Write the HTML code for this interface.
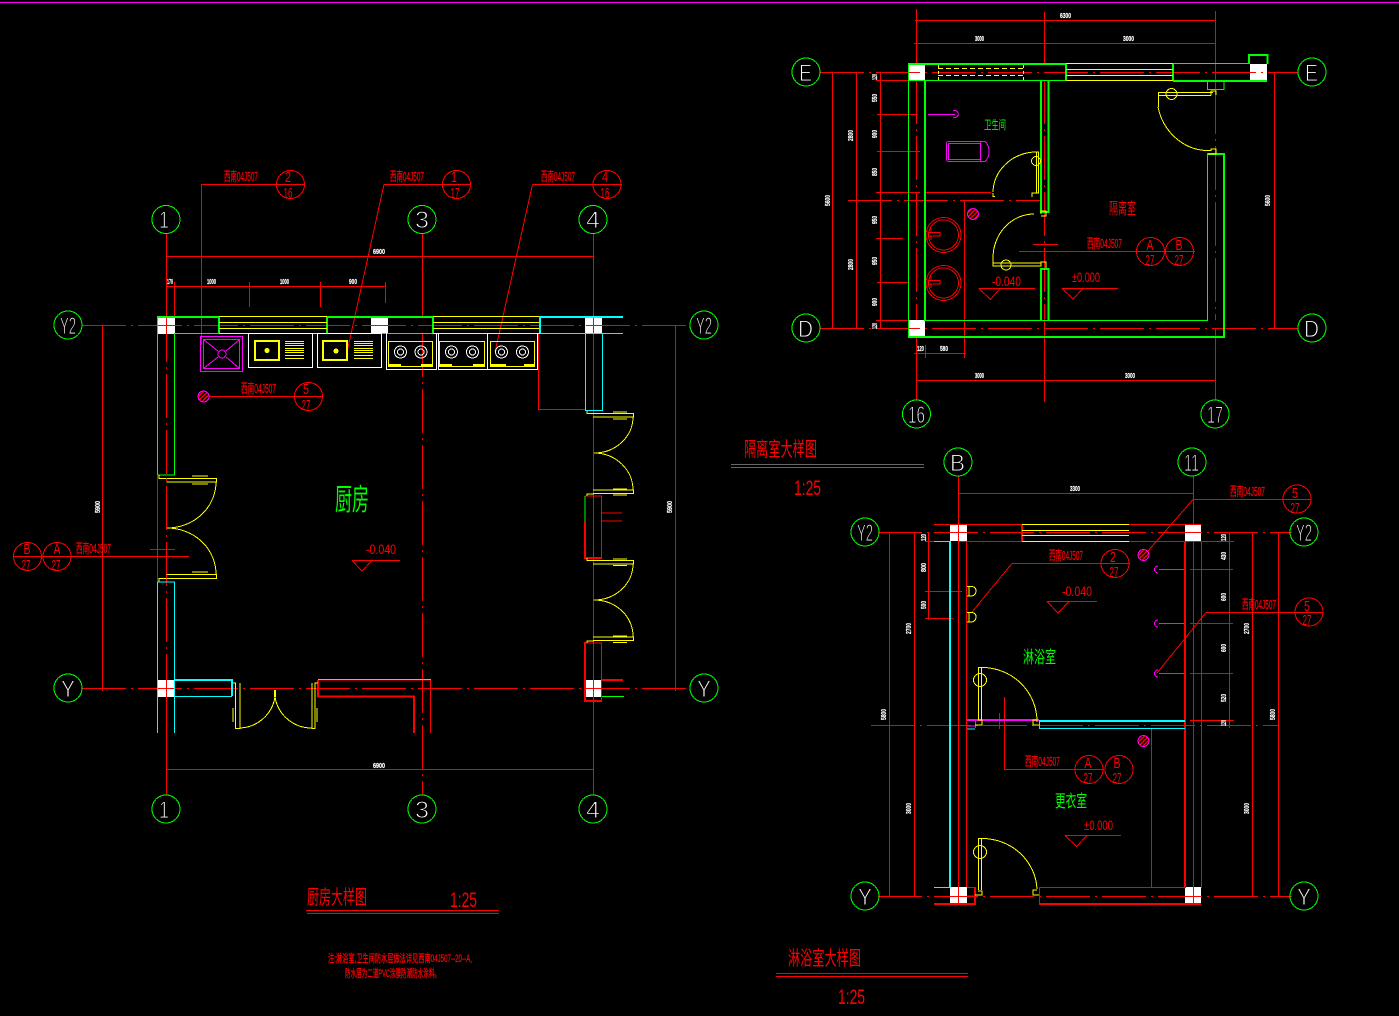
<!DOCTYPE html>
<html><head><meta charset="utf-8"><style>
html,body{margin:0;padding:0;background:#000;width:1399px;height:1016px;overflow:hidden}
svg{display:block;shape-rendering:crispEdges}
text{font-family:"Liberation Sans","Noto Sans CJK SC",sans-serif;stroke:none}
.r{stroke:#f00;fill:none}.g{stroke:#0f0;fill:none}.c{stroke:#0ff;fill:none}.y{stroke:#ff0;fill:none}.m{stroke:#f0f;fill:none}.w{stroke:#fff;fill:none}
.t2{stroke-width:2}.t3{stroke-width:3}
.dd{stroke-dasharray:44 5 2 5}
.lab text{fill:#f00;font-size:13px;stroke:#f00;stroke-width:.25}
.num text{fill:#f00;font-size:15px}
.b text{fill:#fff;font-size:24px;stroke:#000;stroke-width:.9}
.d text{fill:#fff;font-size:7.5px;font-weight:bold;font-family:"Liberation Sans",sans-serif;stroke:#fff;stroke-width:.2}
.el{fill:#f00;font-size:14px}
text.gt{fill:#0f0}
text.rt{fill:#f00}
text.note{fill:#f00;font-size:11px;stroke:#f00;stroke-width:.3}
</style></head><body>
<svg width="1399" height="1016" viewBox="0 0 1399 1016" xmlns="http://www.w3.org/2000/svg">
<defs><pattern id="h" width="3" height="3" patternUnits="userSpaceOnUse" patternTransform="rotate(-45)"><rect width="3" height="3" fill="#000"/><rect width="3" height="1.5" fill="#f00"/></pattern></defs>
<rect width="1399" height="1016" fill="#000"/>
<rect x="0" y="2" width="1399" height="1" fill="#f0f"/>

<!-- white columns -->
<g fill="#fff">
<rect x="158" y="318" width="17" height="16"/><rect x="371" y="318" width="17" height="16"/><rect x="585" y="318" width="17" height="16"/>
<rect x="158" y="680" width="17" height="17"/><rect x="586" y="680" width="16" height="17"/>
<rect x="909" y="65" width="16" height="15"/><rect x="1250" y="64" width="17" height="16"/><rect x="909" y="320" width="16" height="16"/>
<rect x="950" y="525" width="17" height="16"/><rect x="1185" y="525" width="16" height="16"/><rect x="950" y="887" width="17" height="17"/><rect x="1185" y="887" width="16" height="17"/>
</g>

<!-- ============ KITCHEN ============ -->
<g class="r">
<path d="M166.5,234V316M166.5,697V795M422.5,234V316M593.5,234V795"/>
<path class="dd" d="M166.5,318V700M422.5,333V795"/>
<path class="dd" d="M82,325.5H690"/>
<path class="dd" d="M82,688.5H690"/>
<path d="M166,256.5H593M166,286.5H386M249.5,282V307M320.5,282V307M385.5,282V303M174.5,282V316M102.5,325V691M675.5,325V691M166,769.5H593"/>
<path d="M201.5,184.5H304M201.5,184.5V345M384,184.5H471M384,184.5L347,352M532.5,184.5H622M532.5,184.5L495,352M209,396.5H322M13,556.5H189M150,549.5H175M538.5,333V409.5H585"/>
<path d="M157.5,475V582"/>
<path d="M352,560.5H400M352,560.5L362,571L372,560.5"/>
<circle cx="290.5" cy="184.5" r="14"/><circle cx="456.5" cy="184.5" r="14"/><circle cx="607" cy="184.5" r="14"/><circle cx="308.5" cy="396.5" r="14"/><circle cx="27.5" cy="556.5" r="14"/><circle cx="57" cy="556.5" r="14"/>
<path d="M585,496H601.5V558M601.5,513H622M601.5,521H622M585,643H601.5V701"/>
<path class="t2" d="M585,521V558H602M585,642V701H602M602,680H623"/>
<path d="M318,680H430.5V733"/>
<path class="t2" d="M318,680V696.5H414V733"/>
</g>
<g class="g">
<path class="t2" d="M157,317H219V333M327,333V317H433V333"/>
<path d="M175,333.5H433M157.5,317V475M174.5,333V475H158M585,496V521M602,696.5H624"/>
</g>
<g class="y">
<path d="M219,316.5H327M219,322.5H327M219,328.5H327M219,333.5H327M433,316.5H540M433,322.5H540M433,328.5H540M433,333.5H540"/>
<path d="M159,475V478.5H166M166.5,478.5H216.5V482H166.5M192,476H208M192,484H208"/>
<path d="M216,482A49,46 0 0 1 167,528A49,46 0 0 1 216,574"/>
<path d="M159,582V578.5H166M166.5,574.5H216.5V578.5H166.5M192,572H208"/>
<path d="M587,410V413.5H594M593,413.5H633.5V417H593M613,412H627M613,419H627"/>
<path d="M633,417A39,36 0 0 1 594,453A39,37 0 0 1 633,490"/>
<path d="M593,490H633.5V493.5H593M587,496V494H594M613,489H627M613,495H627"/>
<path d="M587,558V560.5H594M593,560.5H633.5V564H593M613,559H627M613,565.5H627"/>
<path d="M633,564A39,36 0 0 1 594,600A39,36 0 0 1 633,636.5"/>
<path d="M593,637H633.5V640.5H593M587,643V641H594M613,636H627M613,642.5H627"/>
<path d="M232,683H235.5V728.5H240V683M233,708V722"/>
<path d="M240,728A37,37 0 0 0 275,697M275,697A37,37 0 0 0 312,728"/>
<path d="M312,683V728.5H315V683H318M317,708V722"/>
<path class="t2" d="M275,690V697"/>
</g>
<g class="c">
<path class="t2" d="M540,333V317H623M175,680H232V696"/>
<path d="M540,333.5H623M585.5,333V410.5H602.5V333"/>
<path d="M157.5,582H174.5V733M157.5,582V733M175,696.5H232M318,679.5H431"/>
</g>
<g class="m">
<rect x="200.5" y="336.5" width="42" height="35"/>
<rect x="203.5" y="339.5" width="36" height="29"/>
<path d="M204,340L218,351M239,340L226,351M204,368L218,357M239,368L226,357"/>
<circle cx="222" cy="354" r="4"/>
</g>
<circle cx="203.5" cy="396.5" r="5.5" fill="url(#h)" stroke="#f0f"/>
<g class="w">
<rect x="248.5" y="333.5" width="64" height="34"/>
<rect x="317.5" y="333.5" width="64" height="34"/>
<path d="M386.5,333V369.5H436.5V333M438.5,333V369.5H487.5V333M537.5,333V369.5H487.5"/>
<circle cx="400.5" cy="352" r="6"/><circle cx="400.5" cy="352" r="3"/><circle cx="421" cy="352" r="6"/><circle cx="421" cy="352" r="3"/>
<circle cx="451.5" cy="352" r="6"/><circle cx="451.5" cy="352" r="3"/><circle cx="472.5" cy="352" r="6"/><circle cx="472.5" cy="352" r="3"/>
<circle cx="501.5" cy="352" r="6"/><circle cx="501.5" cy="352" r="3"/><circle cx="522.5" cy="352" r="6"/><circle cx="522.5" cy="352" r="3"/>
</g>
<g class="y">
<rect class="t2" x="255" y="341" width="24" height="19"/><rect class="t2" x="323" y="341" width="24" height="19"/>
<path d="M285,341.5H304M285,343.5H304M285,345.5H304M285,348.5H304M285,350.5H304M285,352.5H304M285,355.5H304M285,358.5H304"/>
<path d="M354,341.5H373M354,343.5H373M354,345.5H373M354,348.5H373M354,350.5H373M354,352.5H373M354,355.5H373M354,358.5H373"/>
<rect x="388.5" y="341.5" width="44" height="25"/><rect x="439.5" y="341.5" width="45" height="25"/><rect x="490.5" y="341.5" width="44" height="25"/>
</g>
<g fill="#ff0"><circle cx="267" cy="350.5" r="2.5"/><circle cx="336" cy="351" r="2.5"/><rect x="389" y="364" width="12" height="3"/><rect x="421" y="364" width="12" height="3"/><rect x="440" y="364" width="12" height="3"/><rect x="473" y="364" width="12" height="3"/><rect x="490" y="364" width="16" height="3"/><rect x="524" y="364" width="11" height="3"/></g>

<g class="g"><circle cx="166" cy="219.5" r="14"/><circle cx="422" cy="219.5" r="14"/><circle cx="593" cy="219.5" r="14"/><circle cx="68" cy="325" r="14"/><circle cx="704" cy="325" r="14"/><circle cx="68" cy="688" r="14"/><circle cx="704" cy="688" r="14"/><circle cx="166" cy="809" r="14"/><circle cx="422" cy="809" r="14"/><circle cx="593" cy="809" r="14"/></g>
<g class="b">
<text x="159" y="228" textLength="10" lengthAdjust="spacingAndGlyphs">1</text><text x="415" y="228" textLength="14" lengthAdjust="spacingAndGlyphs">3</text><text x="586" y="228" textLength="14" lengthAdjust="spacingAndGlyphs">4</text>
<text x="60" y="334" textLength="16" lengthAdjust="spacingAndGlyphs">Y2</text><text x="696" y="334" textLength="16" lengthAdjust="spacingAndGlyphs">Y2</text>
<text x="61" y="697" textLength="14" lengthAdjust="spacingAndGlyphs">Y</text><text x="697" y="697" textLength="14" lengthAdjust="spacingAndGlyphs">Y</text>
<text x="159" y="818" textLength="10" lengthAdjust="spacingAndGlyphs">1</text><text x="415" y="818" textLength="14" lengthAdjust="spacingAndGlyphs">3</text><text x="586" y="818" textLength="14" lengthAdjust="spacingAndGlyphs">4</text>
</g>
<g class="lab">
<text x="224" y="181" textLength="34" lengthAdjust="spacingAndGlyphs">西南04J507</text>
<text x="390" y="181" textLength="34" lengthAdjust="spacingAndGlyphs">西南04J507</text>
<text x="541" y="181" textLength="34" lengthAdjust="spacingAndGlyphs">西南04J507</text>
<text x="241" y="393" textLength="35" lengthAdjust="spacingAndGlyphs">西南04J507</text>
<text x="76" y="553" textLength="35" lengthAdjust="spacingAndGlyphs">西南04J507</text>
</g>
<g class="num" text-anchor="middle">
<text x="288" y="182" textLength="6" lengthAdjust="spacingAndGlyphs">2</text><text x="288" y="198" textLength="9" lengthAdjust="spacingAndGlyphs">16</text>
<text x="454" y="182" textLength="6" lengthAdjust="spacingAndGlyphs">1</text><text x="455" y="198" textLength="9" lengthAdjust="spacingAndGlyphs">17</text>
<text x="605" y="182" textLength="6" lengthAdjust="spacingAndGlyphs">4</text><text x="605" y="198" textLength="9" lengthAdjust="spacingAndGlyphs">16</text>
<text x="306" y="394" textLength="6" lengthAdjust="spacingAndGlyphs">5</text><text x="306" y="410" textLength="9" lengthAdjust="spacingAndGlyphs">27</text>
<text x="27" y="554" textLength="7" lengthAdjust="spacingAndGlyphs">B</text><text x="26" y="570" textLength="9" lengthAdjust="spacingAndGlyphs">27</text>
<text x="57" y="554" textLength="7" lengthAdjust="spacingAndGlyphs">A</text><text x="56" y="570" textLength="9" lengthAdjust="spacingAndGlyphs">27</text>
</g>
<g class="d">
<text x="373" y="254" textLength="12" lengthAdjust="spacingAndGlyphs">6900</text><text x="373" y="768" textLength="12" lengthAdjust="spacingAndGlyphs">6900</text>
<text x="167" y="284" textLength="6" lengthAdjust="spacingAndGlyphs">170</text><text x="207" y="284" textLength="9" lengthAdjust="spacingAndGlyphs">1000</text><text x="280" y="284" textLength="9" lengthAdjust="spacingAndGlyphs">1000</text><text x="349" y="284" textLength="8" lengthAdjust="spacingAndGlyphs">900</text>
<text transform="translate(100,513) rotate(-90)" textLength="12" lengthAdjust="spacingAndGlyphs">5900</text>
<text transform="translate(672,513) rotate(-90)" textLength="12" lengthAdjust="spacingAndGlyphs">5900</text>
</g>
<text class="gt" x="335" y="510" font-size="30" textLength="34" lengthAdjust="spacingAndGlyphs">厨房</text>
<text class="el" x="366" y="554" textLength="30" lengthAdjust="spacingAndGlyphs">-0.040</text>
<text class="rt" x="307" y="904" font-size="20" textLength="60" lengthAdjust="spacingAndGlyphs">厨房大样图</text>
<text class="rt" x="450" y="907" font-size="21" textLength="27" lengthAdjust="spacingAndGlyphs">1:25</text>
<rect x="306" y="910" width="193" height="1" fill="#f00"/><rect x="307" y="913" width="192" height="1" fill="#f00"/>
<text class="note" x="328" y="962" textLength="144" lengthAdjust="spacingAndGlyphs">注:淋浴室,卫生间防水层做法详见西南04J507--20--A,</text>
<text class="note" x="345" y="977" textLength="95" lengthAdjust="spacingAndGlyphs">防水层为二道PVC涂膜防潮防水涂料。</text>

<!-- ============ ISOLATION ============ -->
<g class="r">
<path d="M916.5,9V65M916.5,336V400M1215.5,11V90"/>
<path class="dd" d="M916.5,80V320M1215.5,90V320"/>
<path d="M1215.5,328V400M1044.5,12V64M1044.5,336V380"/>
<path class="dd" d="M1044.5,80V402"/>
<path class="dd" d="M820,72.5H1298"/>
<path class="dd" d="M820,328.5H1298"/>
<path class="dd" d="M848,200.5H1040"/>
<path d="M915,20.5H1216M914,43.5H1216M916,380.5H1216M914,353.5H966M925.5,345V358M964.5,200V358"/>
<path d="M832.5,72V329M856.5,72V329M880.5,72V329M1274.5,72V329"/>
<path d="M876,80.5H909M877,114.5H918M877,151.5H920M876,192.5H920M926,192.5H991M876,238.5H903M877,282.5H909M876,320.5H908"/>
<path d="M1019,251.5H1195M1033,244.5H1058"/>
<path d="M979,288.5H1035M979,288.5L990.5,299.5L1000,288.5M1062,288.5H1118M1062,288.5L1073,299L1083,288.5"/>
<circle cx="1150.5" cy="251.5" r="14"/><circle cx="1179.5" cy="251.5" r="14"/>
<circle cx="943.5" cy="235" r="17.5"/><circle cx="943.5" cy="235" r="15"/><circle cx="943.5" cy="283" r="17.5"/><circle cx="943.5" cy="283" r="15"/>
<path d="M928.5,232.5H940V236H928.5ZM931,228V232M931,236V240M928.5,280.5H940V284H928.5ZM931,276V280M931,284V288"/>
</g>
<g class="g">
<path class="t2" d="M908,64H1066V81M1173,81V64"/>
<path class="t2" d="M1173,81H1267M1249,64V55H1267.5V64M925,81V321M1041,81V212H1048.5V81M1041,320V269H1048.5V320M1207.5,154H1224V337H908"/>
<path d="M908,80.5H1066M1173,63.5H1249M1207.5,153V320.5H925M1207.5,81V89.5H1224V81M908.5,64V337"/>
</g>
<g class="y">
<path d="M1066,63.5H1173M1066,69.5H1173M1066,75.5H1173M1066,80.5H1173"/>
<path stroke-dasharray="5 3" d="M938,68.5H1024M938,75.5H1024"/>
<path stroke-dasharray="3 3" d="M938.5,65V80M1023.5,65V80"/>
<path d="M1158.5,107V92.5H1213M1158.5,95.5H1211M1211,95.5V91H1216V95M1158,107A52,55 0 0 0 1205,150.5H1211V149H1216V154H1208"/>
<circle cx="1171.5" cy="94" r="5.5"/>
<path d="M1036.5,152V193H1038.5V152H1033M1038,193H1032V197M993,193V196.5H995"/>
<path d="M993,192A44,41 0 0 1 1034,152"/>
<circle cx="1036" cy="161" r="4.5"/>
<path d="M1034,214A41,44 0 0 0 993,258V266H1041V263H993"/><path d="M1041,214V211H1046V216H1041M1041,266V262H1046V268"/>
<circle cx="1006" cy="265" r="5"/>
</g>
<g class="m">
<path d="M928,114.5H955"/><path d="M953,111A3.5,3.5 0 1 1 953,117"/>
<rect x="946.5" y="141.5" width="34" height="20" rx="2"/><rect x="948.5" y="143.5" width="32" height="16"/>
<path d="M980,141.5H985Q989,145 989,151.5Q989,158 985,161.5H980"/>
</g>
<circle cx="973" cy="214" r="5.5" fill="url(#h)" stroke="#f0f"/>
<g class="g"><circle cx="806" cy="72" r="14"/><circle cx="1312" cy="72" r="14"/><circle cx="806" cy="328" r="14"/><circle cx="1312" cy="328" r="14"/><circle cx="916.5" cy="414" r="14"/><circle cx="1215" cy="414" r="14"/></g>
<g class="b">
<text x="799" y="81" textLength="13" lengthAdjust="spacingAndGlyphs">E</text><text x="1305" y="81" textLength="13" lengthAdjust="spacingAndGlyphs">E</text>
<text x="798" y="337" textLength="15" lengthAdjust="spacingAndGlyphs">D</text><text x="1304" y="337" textLength="15" lengthAdjust="spacingAndGlyphs">D</text>
<text x="908" y="423" textLength="17" lengthAdjust="spacingAndGlyphs">16</text><text x="1207" y="423" textLength="16" lengthAdjust="spacingAndGlyphs">17</text>
</g>
<g class="lab">
<text x="1087" y="248" textLength="35" lengthAdjust="spacingAndGlyphs">西南04J507</text>
</g>
<g class="num" text-anchor="middle">
<text x="1150" y="250" textLength="7" lengthAdjust="spacingAndGlyphs">A</text><text x="1150" y="265" textLength="9" lengthAdjust="spacingAndGlyphs">27</text>
<text x="1179" y="250" textLength="7" lengthAdjust="spacingAndGlyphs">B</text><text x="1179" y="265" textLength="9" lengthAdjust="spacingAndGlyphs">27</text>
</g>
<g class="d">
<text x="1060" y="18" textLength="11" lengthAdjust="spacingAndGlyphs">6300</text><text x="975" y="41" textLength="9" lengthAdjust="spacingAndGlyphs">3000</text><text x="1123" y="41" textLength="11" lengthAdjust="spacingAndGlyphs">3000</text>
<text x="975" y="378" textLength="9" lengthAdjust="spacingAndGlyphs">3000</text><text x="1125" y="378" textLength="10" lengthAdjust="spacingAndGlyphs">3000</text>
<text x="917" y="351" textLength="7" lengthAdjust="spacingAndGlyphs">120</text><text x="940" y="351" textLength="8" lengthAdjust="spacingAndGlyphs">580</text>
<text transform="translate(830,206) rotate(-90)" textLength="11" lengthAdjust="spacingAndGlyphs">5600</text>
<text transform="translate(853,141) rotate(-90)" textLength="11" lengthAdjust="spacingAndGlyphs">2800</text>
<text transform="translate(853,270) rotate(-90)" textLength="11" lengthAdjust="spacingAndGlyphs">2800</text>
<text transform="translate(877,80) rotate(-90)" textLength="6" lengthAdjust="spacingAndGlyphs">120</text>
<text transform="translate(877,102) rotate(-90)" textLength="8" lengthAdjust="spacingAndGlyphs">550</text>
<text transform="translate(877,138) rotate(-90)" textLength="8" lengthAdjust="spacingAndGlyphs">900</text>
<text transform="translate(877,176) rotate(-90)" textLength="8" lengthAdjust="spacingAndGlyphs">850</text>
<text transform="translate(877,224) rotate(-90)" textLength="8" lengthAdjust="spacingAndGlyphs">950</text>
<text transform="translate(877,265) rotate(-90)" textLength="8" lengthAdjust="spacingAndGlyphs">950</text>
<text transform="translate(877,306) rotate(-90)" textLength="8" lengthAdjust="spacingAndGlyphs">900</text>
<text transform="translate(877,329) rotate(-90)" textLength="6" lengthAdjust="spacingAndGlyphs">120</text>
<text transform="translate(1270,206) rotate(-90)" textLength="11" lengthAdjust="spacingAndGlyphs">5600</text>
</g>
<text class="gt" x="984" y="129" font-size="12" textLength="22" lengthAdjust="spacingAndGlyphs">卫生间</text>
<text class="rt" x="1109" y="214" font-size="16" textLength="27" lengthAdjust="spacingAndGlyphs">隔离室</text>
<text class="el" x="992" y="286" textLength="29" lengthAdjust="spacingAndGlyphs">-0.040</text>
<text class="el" x="1072" y="282" textLength="28" lengthAdjust="spacingAndGlyphs">±0.000</text>
<text class="rt" x="744" y="456" font-size="20" textLength="73" lengthAdjust="spacingAndGlyphs">隔离室大样图</text>
<text class="rt" x="794" y="495" font-size="21" textLength="27" lengthAdjust="spacingAndGlyphs">1:25</text>
<rect x="731" y="464" width="193" height="1" fill="#666"/><rect x="731" y="467" width="193" height="1" fill="#666"/>

<!-- ============ SHOWER ============ -->
<g class="r">
<path d="M958.5,476V905M1193.5,476V525M1193.5,541V905"/>
<path class="dd" d="M878,532.5H1292"/>
<path class="dd" d="M878,896.5H1292"/>
<path class="dd" d="M871,725.5H1278"/>
<path d="M958,493.5H1193M934,524.5H1022M1129,524.5H1201M958,541.5H1022M1129,541.5H1201M966.5,541V887M1201.5,541V888"/>
<path class="t2" d="M1185,541V888M1022,525V541"/>
<path d="M967,887.5H975M1039.5,887.5H1185M1039.5,887.5V904M967,896H975"/>
<path class="t2" d="M975,887V904H934M1039,904H1201"/>
<path d="M889.5,532V896M914.5,532V896M928.5,532V620M1252.5,532V896M1278.5,532V896M1229.5,532V728"/>
<path d="M925,591.5H962M925,618.5H953M925,541.5H950M1190,541.5H1234M1190,569.5H1233M1190,623.5H1233M1190,673.5H1233M1190,720.5H1234"/>
<path d="M1012,563.5H1130M1012,563.5L972,612M1193,499.5H1311M1193,499.5L1148,551M1206,612.5H1323M1206,612.5L1157,673"/>
<path d="M1004.5,697V769.5H1104M999.5,713V729M1151.5,729V887"/>
<path d="M1047,601.5H1097M1047,601.5L1058,613L1069,601.5M1065,835.5H1121M1065,835.5L1076.5,846.5L1087,835.5"/>
<circle cx="1115" cy="563.5" r="14"/><circle cx="1297" cy="499" r="14"/><circle cx="1309" cy="612" r="14"/><circle cx="1089" cy="769.5" r="14"/><circle cx="1119" cy="769.5" r="14"/>
</g>
<g class="c">
<path class="t2" d="M950,541V887"/>
<path d="M934,541.5H950M934,887.5H950"/>
<path class="t2" d="M1039,721H1185"/>
<path d="M1039.5,721V729M1039,728.5H1185M967,729H975"/>
</g>
<g class="m">
<path class="t2" d="M967,720H1039"/>
<path d="M975.5,720V728M967,726H975"/>
<path d="M1159,569.5H1184M1159,623.5H1184M1159,673.5H1184"/>
<path d="M1158,566A3.5,3.5 0 1 0 1158,573M1158,620A3.5,3.5 0 1 0 1158,627M1158,670A3.5,3.5 0 1 0 1158,677"/>
</g>
<circle cx="1143.5" cy="555" r="5.5" fill="url(#h)" stroke="#f0f"/>
<circle cx="1143.5" cy="741" r="5.5" fill="url(#h)" stroke="#f0f"/>
<g class="y">
<path d="M1022,524.5H1129M1022,530.5H1129M1022,535.5H1129M1022,541.5H1129"/>
<path d="M978.5,720V667.5H982M981.5,667.5V720M982,667.5A55,54 0 0 1 1037,722M978,720H982V725H975M1037,720H1033V725H1039"/>
<path d="M978.5,890V838.5H982M981.5,838.5V890M982,838.5A55,53 0 0 1 1037,889M978,891H982V895H975M1037,890H1033V895H1039"/>
<circle cx="980" cy="680" r="6.5"/><circle cx="980" cy="852" r="6.5"/>
<path d="M967,586.5H972Q976,587 976,591Q976,595 972,596H967M969,586.5V596M967,612.5H972Q976,613 976,617Q976,621 972,622H967M969,612.5V622"/>
</g>
<g class="g"><circle cx="958" cy="462" r="14"/><circle cx="1192" cy="462" r="14"/><circle cx="865" cy="532" r="14"/><circle cx="1304" cy="532" r="14"/><circle cx="865" cy="896" r="14"/><circle cx="1304" cy="896" r="14"/></g>
<g class="b">
<text x="950" y="471" textLength="15" lengthAdjust="spacingAndGlyphs">B</text><text x="1184" y="471" textLength="15" lengthAdjust="spacingAndGlyphs">11</text>
<text x="857" y="541" textLength="16" lengthAdjust="spacingAndGlyphs">Y2</text><text x="1296" y="541" textLength="16" lengthAdjust="spacingAndGlyphs">Y2</text>
<text x="858" y="905" textLength="14" lengthAdjust="spacingAndGlyphs">Y</text><text x="1297" y="905" textLength="14" lengthAdjust="spacingAndGlyphs">Y</text>
</g>
<g class="lab">
<text x="1049" y="560" textLength="34" lengthAdjust="spacingAndGlyphs">西南04J507</text>
<text x="1230" y="496" textLength="35" lengthAdjust="spacingAndGlyphs">西南04J507</text>
<text x="1242" y="609" textLength="34" lengthAdjust="spacingAndGlyphs">西南04J507</text>
<text x="1025" y="766" textLength="35" lengthAdjust="spacingAndGlyphs">西南04J507</text>
</g>
<g class="num" text-anchor="middle">
<text x="1113" y="562" textLength="6" lengthAdjust="spacingAndGlyphs">2</text><text x="1114" y="577" textLength="9" lengthAdjust="spacingAndGlyphs">27</text>
<text x="1295" y="498" textLength="6" lengthAdjust="spacingAndGlyphs">5</text><text x="1295" y="513" textLength="9" lengthAdjust="spacingAndGlyphs">27</text>
<text x="1307" y="611" textLength="6" lengthAdjust="spacingAndGlyphs">5</text><text x="1307" y="625" textLength="9" lengthAdjust="spacingAndGlyphs">27</text>
<text x="1088" y="768" textLength="7" lengthAdjust="spacingAndGlyphs">A</text><text x="1088" y="783" textLength="9" lengthAdjust="spacingAndGlyphs">27</text>
<text x="1117" y="768" textLength="7" lengthAdjust="spacingAndGlyphs">B</text><text x="1117" y="783" textLength="9" lengthAdjust="spacingAndGlyphs">27</text>
</g>
<g class="d">
<text x="1070" y="491" textLength="10" lengthAdjust="spacingAndGlyphs">3300</text>
<text transform="translate(886,720) rotate(-90)" textLength="11" lengthAdjust="spacingAndGlyphs">5800</text>
<text transform="translate(911,634) rotate(-90)" textLength="11" lengthAdjust="spacingAndGlyphs">2700</text>
<text transform="translate(911,814) rotate(-90)" textLength="11" lengthAdjust="spacingAndGlyphs">3000</text>
<text transform="translate(1249,634) rotate(-90)" textLength="11" lengthAdjust="spacingAndGlyphs">2700</text>
<text transform="translate(1249,814) rotate(-90)" textLength="11" lengthAdjust="spacingAndGlyphs">3000</text>
<text transform="translate(1275,720) rotate(-90)" textLength="11" lengthAdjust="spacingAndGlyphs">5800</text>
<text transform="translate(926,541) rotate(-90)" textLength="7" lengthAdjust="spacingAndGlyphs">120</text>
<text transform="translate(926,572) rotate(-90)" textLength="9" lengthAdjust="spacingAndGlyphs">800</text>
<text transform="translate(926,609) rotate(-90)" textLength="8" lengthAdjust="spacingAndGlyphs">500</text>
<text transform="translate(1226,541) rotate(-90)" textLength="7" lengthAdjust="spacingAndGlyphs">120</text>
<text transform="translate(1226,560) rotate(-90)" textLength="8" lengthAdjust="spacingAndGlyphs">430</text>
<text transform="translate(1226,601) rotate(-90)" textLength="8" lengthAdjust="spacingAndGlyphs">600</text>
<text transform="translate(1226,652) rotate(-90)" textLength="8" lengthAdjust="spacingAndGlyphs">600</text>
<text transform="translate(1226,702) rotate(-90)" textLength="8" lengthAdjust="spacingAndGlyphs">520</text>
<text transform="translate(1226,726) rotate(-90)" textLength="6" lengthAdjust="spacingAndGlyphs">120</text>
</g>
<text class="gt" x="1023" y="663" font-size="17" textLength="33" lengthAdjust="spacingAndGlyphs">淋浴室</text>
<text class="gt" x="1055" y="807" font-size="17" textLength="32" lengthAdjust="spacingAndGlyphs">更衣室</text>
<text class="el" x="1062" y="596" textLength="30" lengthAdjust="spacingAndGlyphs">-0.040</text>
<text class="el" x="1084" y="830" textLength="29" lengthAdjust="spacingAndGlyphs">±0.000</text>
<text class="rt" x="788" y="965" font-size="20" textLength="73" lengthAdjust="spacingAndGlyphs">淋浴室大样图</text>
<text class="rt" x="838" y="1004" font-size="21" textLength="27" lengthAdjust="spacingAndGlyphs">1:25</text>
<rect x="776" y="973" width="192" height="1" fill="#f00"/><rect x="776" y="976" width="192" height="1" fill="#f00"/>
</svg>
</body></html>
